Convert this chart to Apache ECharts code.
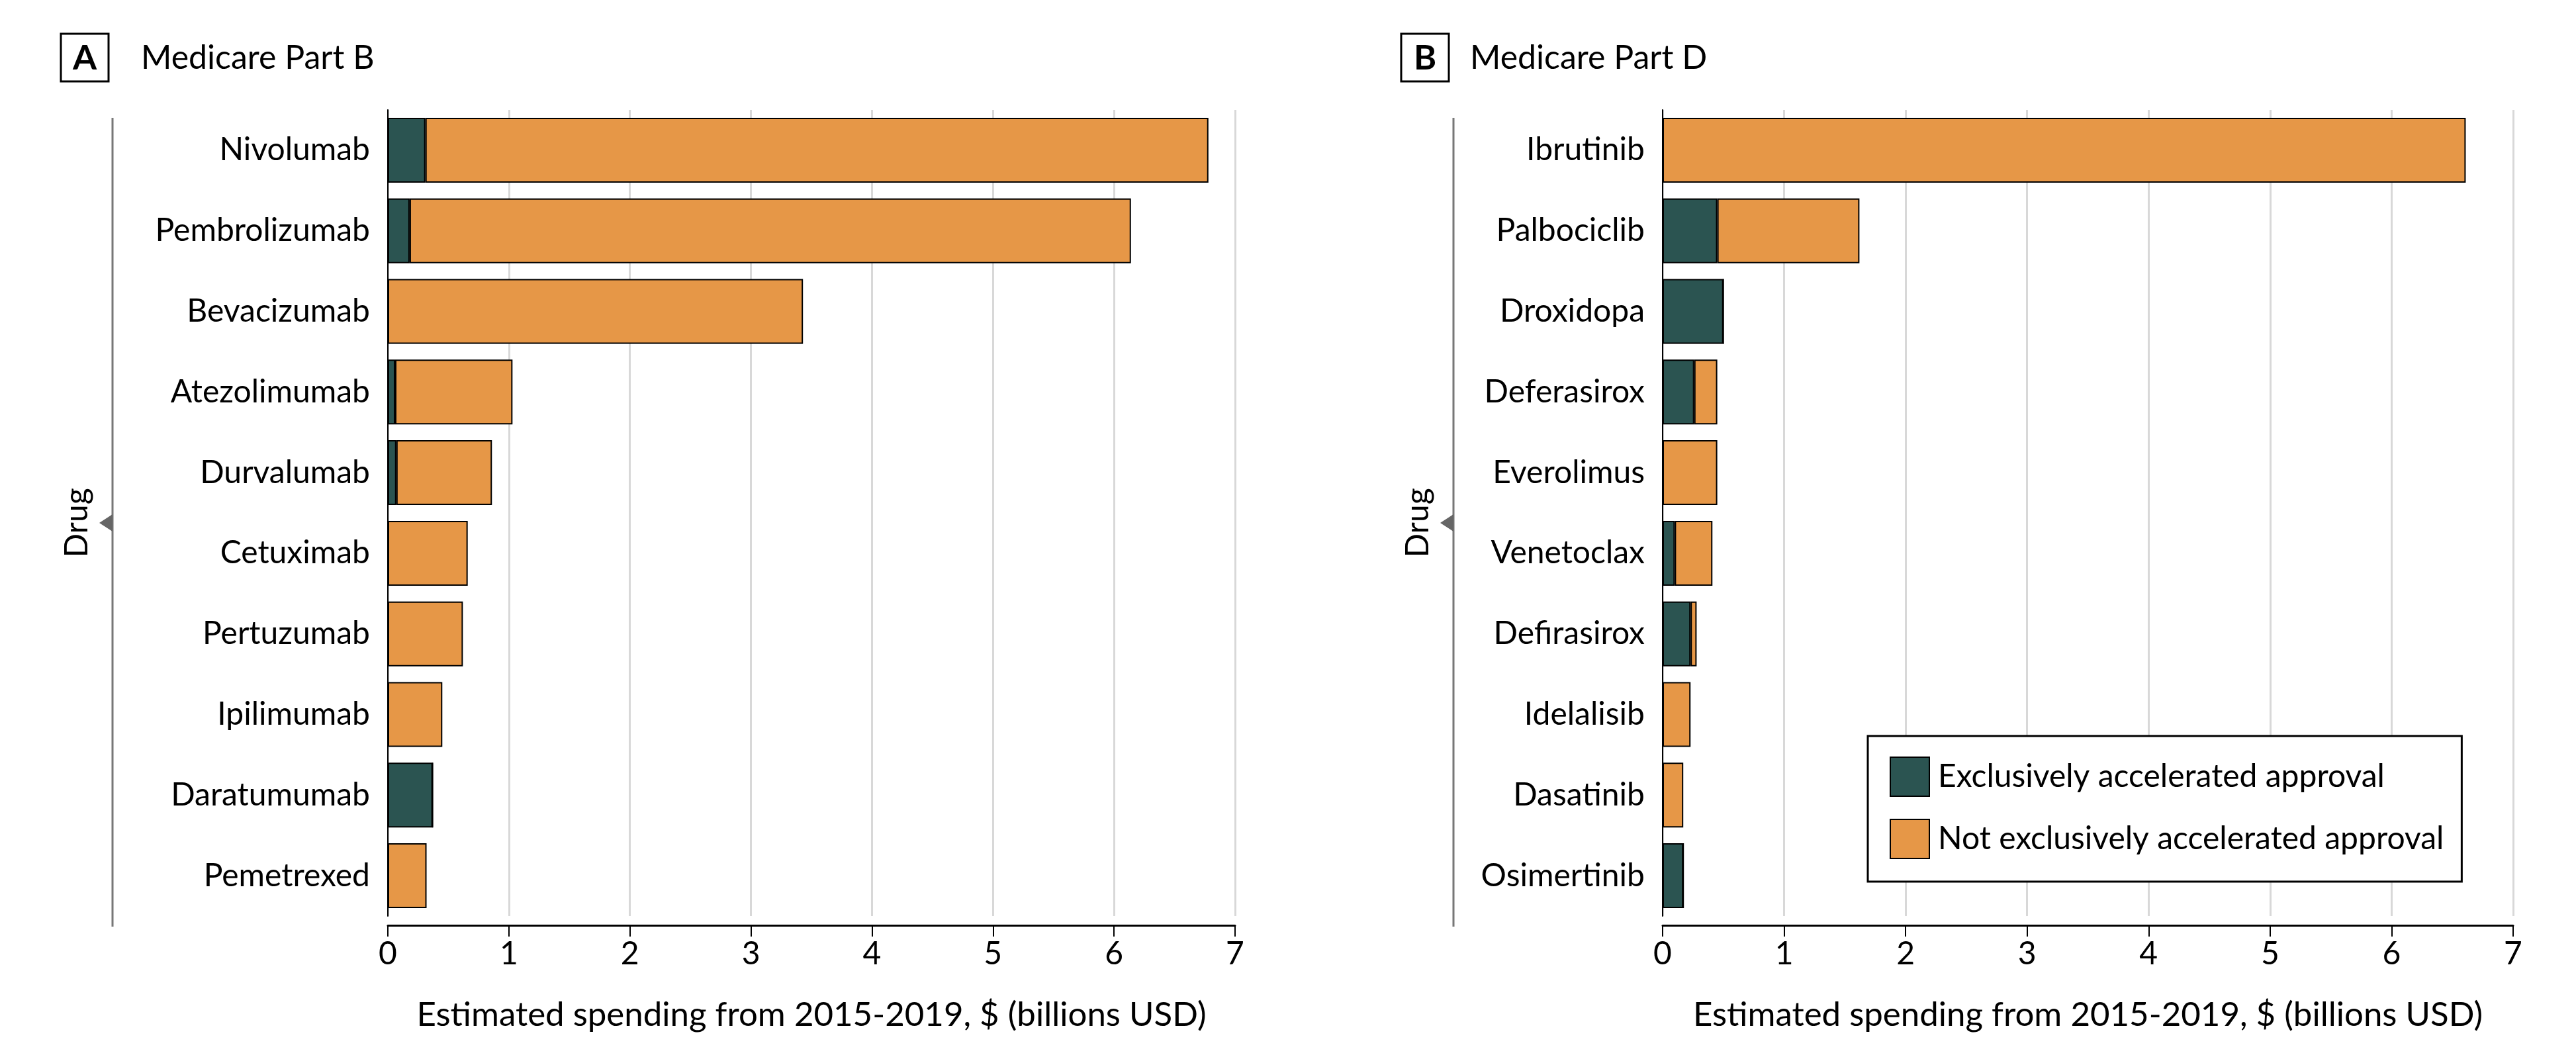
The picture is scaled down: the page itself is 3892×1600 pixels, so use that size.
<!DOCTYPE html>
<html>
<head>
<meta charset="utf-8">
<script src="https://cdn.jsdelivr.net/npm/echarts@6/dist/echarts.min.js"></script>
<style>
html,body{margin:0;padding:0;background:#fff;}
#chart{width:3892px;height:1600px;}
</style>
</head>
<body>
<div id="chart"></div>
<script>
// ---- data ----
const drugsPartB = ['Nivolumab','Pembrolizumab','Bevacizumab','Atezolimumab','Durvalumab','Cetuximab','Pertuzumab','Ipilimumab','Daratumumab','Pemetrexed'];
const partBAccel = [0.31,0.18,0,0.06,0.07,0,0,0,0.37,0];
const partBNotAccel = [6.47,5.96,3.43,0.97,0.79,0.66,0.62,0.45,0,0.32];

const drugsPartD = ['Ibrutinib','Palbociclib','Droxidopa','Deferasirox','Everolimus','Venetoclax','Defirasirox','Idelalisib','Dasatinib','Osimertinib'];
const partDAccel = [0,0.45,0.50,0.26,0,0.10,0.23,0,0,0.17];
const partDNotAccel = [6.61,1.17,0,0.19,0.45,0.31,0.05,0.23,0.17,0];

const xTicks = [0,1,2,3,4,5,6,7];
const seriesNames = ['Exclusively accelerated approval','Not exclusively accelerated approval'];
const panelTitles = ['Medicare Part B','Medicare Part D'];
const panelLetters = ['A','B'];
const axisTitleX = 'Estimated spending from 2015-2019, $ (billions USD)';
const axisTitleY = 'Drug';

// ---- style ----
const FONT = 'Lato';
const DARK = '#2B5451';
const ORANGE = '#E69747';

const chart = echarts.init(document.getElementById('chart'), null, {renderer:'canvas'});

function xAxisCfg(idx){
  return {
    type:'value', gridIndex:idx, min:xTicks[0], max:xTicks[xTicks.length-1], interval:1,
    offset:14,
    axisLine:{show:true,lineStyle:{color:'#000',width:3}},
    axisTick:{show:true,length:17,lineStyle:{color:'#000',width:2}},
    axisLabel:{color:'#000',fontFamily:FONT,fontSize:48,margin:20},
    splitLine:{show:true,lineStyle:{color:'#d8d8d8',width:3}},
    name:axisTitleX, nameLocation:'middle', nameGap:110,
    nameTextStyle:{color:'#000',fontFamily:FONT,fontSize:51}
  };
}
function yAxisCfg(idx,cats){
  return {
    type:'category', gridIndex:idx, data:cats, inverse:true,
    axisLine:{show:true,lineStyle:{color:'#000',width:2}},
    axisTick:{show:false},
    axisLabel:{color:'#000',fontFamily:FONT,fontSize:48,margin:27},
    splitLine:{show:false}
  };
}
const barStyle = (c)=>({color:c,borderColor:'#000',borderWidth:2});

const option = {
  animation:false,
  backgroundColor:'#fff',
  grid:[
    {left:586, width:1280, top:166, height:1218},
    {left:2512, width:1285, top:166, height:1218}
  ],
  xAxis:[xAxisCfg(0), xAxisCfg(1)],
  yAxis:[yAxisCfg(0,drugsPartB), yAxisCfg(1,drugsPartD)],
  legend:{
    show:true, left:2822, top:1112, orient:'vertical',
    data:seriesNames, icon:'rect',
    itemWidth:59, itemHeight:59, itemGap:33,
    padding:[31,27,34,33],
    borderColor:'#000', borderWidth:3,
    backgroundColor:'#fff',
    textStyle:{color:'#000',fontFamily:FONT,fontSize:48,padding:[0,0,0,8]},
    itemStyle:{borderColor:'#000',borderWidth:2},
    selectedMode:false
  },
  series:[
    {name:seriesNames[0],type:'bar',stack:'a',xAxisIndex:0,yAxisIndex:0,data:partBAccel,barWidth:98,itemStyle:barStyle(DARK)},
    {name:seriesNames[1],type:'bar',stack:'a',xAxisIndex:0,yAxisIndex:0,data:partBNotAccel,barWidth:98,itemStyle:barStyle(ORANGE)},
    {name:seriesNames[0],type:'bar',stack:'d',xAxisIndex:1,yAxisIndex:1,data:partDAccel,barWidth:98,itemStyle:barStyle(DARK)},
    {name:seriesNames[1],type:'bar',stack:'d',xAxisIndex:1,yAxisIndex:1,data:partDNotAccel,barWidth:98,itemStyle:barStyle(ORANGE)}
  ],
  graphic:[]
};

// panel decorations (titles, left "Drug" bracket)
const panels = [
  {boxX:92, titleX:213, lineX:170},
  {boxX:2117, titleX:2221, lineX:2196}
];
panels.forEach((p,i)=>{
  option.graphic.push(
    {type:'rect',shape:{x:p.boxX,y:51,width:72,height:72},style:{fill:'#fff',stroke:'#000',lineWidth:3}},
    {type:'text',x:p.boxX+36,y:88,style:{text:panelLetters[i],fill:'#000',font:'bold 52px '+FONT,textAlign:'center',textVerticalAlign:'middle'}},
    {type:'text',x:p.titleX,y:88,style:{text:panelTitles[i],fill:'#000',font:'50px '+FONT,textAlign:'left',textVerticalAlign:'middle'}},
    {type:'line',shape:{x1:p.lineX,y1:178,x2:p.lineX,y2:1400},style:{stroke:'#777',lineWidth:3}},
    {type:'polygon',shape:{points:[[p.lineX,777],[p.lineX,803],[p.lineX-20,790]]},style:{fill:'#666'}},
    {type:'text',x:p.lineX-53,y:790,rotation:Math.PI/2,style:{text:axisTitleY,fill:'#000',font:'48px '+FONT,textAlign:'center',textVerticalAlign:'middle'}}
  );
});

chart.setOption(option);
</script>
</body>
</html>
